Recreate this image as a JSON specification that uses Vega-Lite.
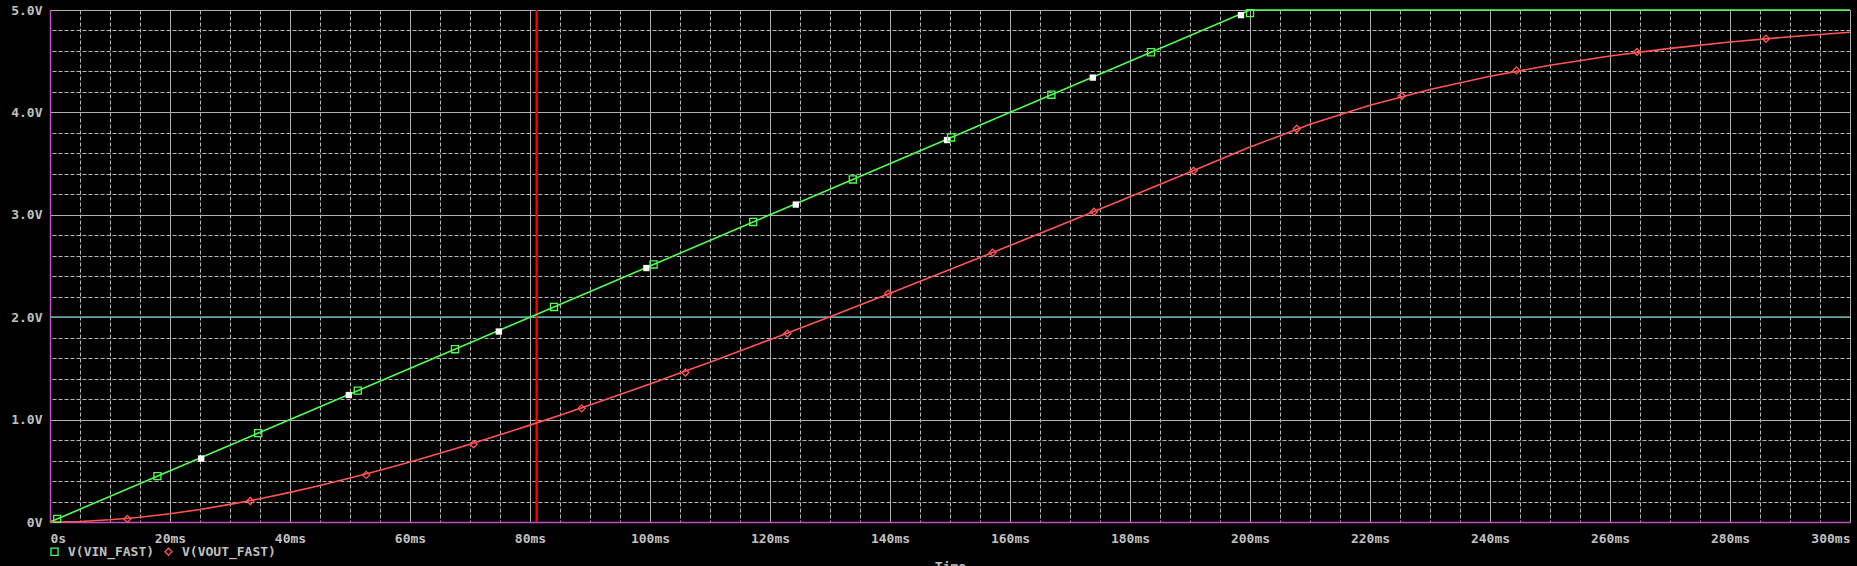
{
  "$schema": "https://vega.github.io/schema/vega-lite/v6.json",
  "width": 1800,
  "height": 512,
  "autosize": "none",
  "padding": {"left": 50, "top": 10, "right": 7, "bottom": 44},
  "background": "#000000",
  "resolve": {"axis": {"x": "independent", "y": "independent"}},
  "config": {
    "view": {"stroke": null},
    "axis": {
      "labelFont": "DejaVu Sans Mono",
      "labelFontWeight": "bold",
      "labelFontSize": 13,
      "labelColor": "#c0c0c0",
      "titleFont": "DejaVu Sans Mono",
      "titleFontWeight": "bold",
      "titleFontSize": 13,
      "titleColor": "#c0c0c0",
      "ticks": false,
      "domainColor": "#c050c0",
      "domainWidth": 1.5,
      "gridOpacity": 1,
      "gridWidth": 1,
      "labelOverlap": false
    },
    "legend": {
      "labelFont": "DejaVu Sans Mono",
      "labelFontWeight": "bold",
      "labelFontSize": 13,
      "labelColor": "#c0c0c0"
    }
  },
  "datasets": {
    "vin": [
      {"t": 0, "v": 0},
      {"t": 25, "v": 0.625},
      {"t": 50, "v": 1.25},
      {"t": 75, "v": 1.875},
      {"t": 100, "v": 2.5},
      {"t": 125, "v": 3.125},
      {"t": 150, "v": 3.75},
      {"t": 175, "v": 4.375},
      {"t": 200, "v": 5.0},
      {"t": 250, "v": 5.0},
      {"t": 300, "v": 5.0}
    ],
    "vout": [
      {"t": 0, "v": 0},
      {"t": 5, "v": 0.0055},
      {"t": 10, "v": 0.0215},
      {"t": 15, "v": 0.0468},
      {"t": 20, "v": 0.0808},
      {"t": 25, "v": 0.1228},
      {"t": 30, "v": 0.172},
      {"t": 35, "v": 0.2277},
      {"t": 40, "v": 0.2894},
      {"t": 45, "v": 0.3567},
      {"t": 50, "v": 0.429},
      {"t": 55, "v": 0.5058},
      {"t": 60, "v": 0.5868},
      {"t": 65, "v": 0.6717},
      {"t": 70, "v": 0.76},
      {"t": 75, "v": 0.8516},
      {"t": 80, "v": 0.946},
      {"t": 85, "v": 1.043},
      {"t": 90, "v": 1.143},
      {"t": 95, "v": 1.2445},
      {"t": 100, "v": 1.348},
      {"t": 105, "v": 1.454},
      {"t": 110, "v": 1.561},
      {"t": 120, "v": 1.78},
      {"t": 130, "v": 2.004},
      {"t": 140, "v": 2.233},
      {"t": 150, "v": 2.465},
      {"t": 160, "v": 2.7},
      {"t": 170, "v": 2.9375},
      {"t": 180, "v": 3.177},
      {"t": 190, "v": 3.4185},
      {"t": 200, "v": 3.661},
      {"t": 210, "v": 3.8835},
      {"t": 220, "v": 4.069},
      {"t": 230, "v": 4.224},
      {"t": 240, "v": 4.353},
      {"t": 250, "v": 4.4605},
      {"t": 260, "v": 4.55},
      {"t": 270, "v": 4.625},
      {"t": 280, "v": 4.687},
      {"t": 290, "v": 4.739},
      {"t": 300, "v": 4.783}
    ],
    "markers": [
      {"t": 1.2, "v": 0.03, "s": "V(VIN_FAST)"},
      {"t": 17.9, "v": 0.4475, "s": "V(VIN_FAST)"},
      {"t": 34.7, "v": 0.8675, "s": "V(VIN_FAST)"},
      {"t": 51.3, "v": 1.2825, "s": "V(VIN_FAST)"},
      {"t": 67.5, "v": 1.6875, "s": "V(VIN_FAST)"},
      {"t": 84, "v": 2.1, "s": "V(VIN_FAST)"},
      {"t": 100.6, "v": 2.515, "s": "V(VIN_FAST)"},
      {"t": 117.2, "v": 2.93, "s": "V(VIN_FAST)"},
      {"t": 133.8, "v": 3.345, "s": "V(VIN_FAST)"},
      {"t": 150.2, "v": 3.755, "s": "V(VIN_FAST)"},
      {"t": 166.9, "v": 4.1725, "s": "V(VIN_FAST)"},
      {"t": 183.5, "v": 4.5875, "s": "V(VIN_FAST)"},
      {"t": 200, "v": 4.97, "s": "V(VIN_FAST)"},
      {"t": 12.9, "v": 0.03, "s": "V(VOUT_FAST)"},
      {"t": 33.4, "v": 0.205, "s": "V(VOUT_FAST)"},
      {"t": 52.7, "v": 0.46, "s": "V(VOUT_FAST)"},
      {"t": 70.6, "v": 0.76, "s": "V(VOUT_FAST)"},
      {"t": 88.6, "v": 1.11, "s": "V(VOUT_FAST)"},
      {"t": 105.9, "v": 1.46, "s": "V(VOUT_FAST)"},
      {"t": 122.9, "v": 1.84, "s": "V(VOUT_FAST)"},
      {"t": 139.7, "v": 2.23, "s": "V(VOUT_FAST)"},
      {"t": 157.1, "v": 2.63, "s": "V(VOUT_FAST)"},
      {"t": 174, "v": 3.03, "s": "V(VOUT_FAST)"},
      {"t": 190.6, "v": 3.43, "s": "V(VOUT_FAST)"},
      {"t": 207.8, "v": 3.84, "s": "V(VOUT_FAST)"},
      {"t": 225.3, "v": 4.16, "s": "V(VOUT_FAST)"},
      {"t": 244.4, "v": 4.41, "s": "V(VOUT_FAST)"},
      {"t": 264.5, "v": 4.59, "s": "V(VOUT_FAST)"},
      {"t": 286, "v": 4.72, "s": "V(VOUT_FAST)"}
    ],
    "whites": [
      {"t": 25.2, "v": 0.62},
      {"t": 49.8, "v": 1.24},
      {"t": 74.8, "v": 1.86},
      {"t": 99.4, "v": 2.48},
      {"t": 124.3, "v": 3.1},
      {"t": 149.5, "v": 3.73},
      {"t": 173.8, "v": 4.34},
      {"t": 198.5, "v": 4.95}
    ],
    "cursor": [{"t": 81.1}],
    "hline": [{"v": 2.0}]
  },
  "layer": [
    {
      "data": {"name": "hline"},
      "mark": {"type": "rule", "color": "#5fa8a8", "strokeWidth": 1.2},
      "encoding": {
        "y": {
          "field": "v",
          "type": "quantitative",
          "scale": {"domain": [0, 5], "nice": false, "zero": false},
          "axis": {
            "orient": "right",
            "values": [0.2, 0.4, 0.6, 0.8, 1.2, 1.4, 1.6, 1.8, 2.2, 2.4, 2.6, 2.8, 3.2, 3.4, 3.6, 3.8, 4.2, 4.4, 4.6, 4.8],
            "labels": false,
            "domain": false,
            "title": null,
            "grid": true,
            "gridColor": "#b8b8b8",
            "gridDash": [4, 2]
          }
        }
      }
    },
    {
      "data": {"name": "cursor"},
      "mark": {"type": "rule", "color": "#ff0000", "strokeWidth": 1.8},
      "encoding": {
        "x": {
          "field": "t",
          "type": "quantitative",
          "scale": {"domain": [0, 300], "nice": false, "zero": false},
          "axis": {
            "orient": "top",
            "values": [5, 10, 15, 25, 30, 35, 45, 50, 55, 65, 70, 75, 85, 90, 95, 105, 110, 115, 125, 130, 135, 145, 150, 155, 165, 170, 175, 185, 190, 195, 205, 210, 215, 225, 230, 235, 245, 250, 255, 265, 270, 275, 285, 290, 295],
            "labels": false,
            "domain": false,
            "title": null,
            "grid": true,
            "gridColor": "#b8b8b8",
            "gridDash": [4, 2]
          }
        }
      }
    },
    {
      "data": {"name": "hline"},
      "mark": {"type": "rule", "color": "#5fa8a8", "strokeWidth": 1.2},
      "encoding": {
        "y": {
          "field": "v",
          "type": "quantitative",
          "axis": {
            "orient": "left",
            "values": [0, 1, 2, 3, 4, 5],
            "labelExpr": "datum.value == 0 ? '0V' : format(datum.value, '.1f') + 'V'",
            "labelOverlap": false,
            "labelPadding": 8,
            "title": null,
            "grid": true,
            "gridColor": "#b0b0b0"
          }
        }
      }
    },
    {
      "data": {"name": "cursor"},
      "mark": {"type": "rule", "color": "#ff0000", "strokeWidth": 1.8},
      "encoding": {
        "x": {
          "field": "t",
          "type": "quantitative",
          "axis": {
            "orient": "bottom",
            "values": [0, 20, 40, 60, 80, 100, 120, 140, 160, 180, 200, 220, 240, 260, 280, 300],
            "labelExpr": "datum.value == 0 ? '0s' : datum.value + 'ms'",
            "labelOverlap": false,
            "labelPadding": 10,
            "title": "Time",
            "titleBaseline": "top",
            "titleY": 38,
            "grid": true,
            "gridColor": "#b0b0b0"
          }
        }
      }
    },
    {
      "data": {"name": "vin"},
      "mark": {"type": "line", "strokeWidth": 1.6, "color": "#50ff50"},
      "encoding": {
        "x": {"field": "t", "type": "quantitative", "axis": null},
        "y": {"field": "v", "type": "quantitative", "axis": null}
      }
    },
    {
      "data": {"name": "vout"},
      "mark": {"type": "line", "strokeWidth": 1.6, "color": "#ff5555"},
      "encoding": {
        "x": {"field": "t", "type": "quantitative", "axis": null},
        "y": {"field": "v", "type": "quantitative", "axis": null}
      }
    },
    {
      "data": {"name": "whites"},
      "mark": {"type": "square", "color": "#ffffff", "filled": true, "size": 40, "opacity": 1},
      "encoding": {
        "x": {"field": "t", "type": "quantitative", "axis": null},
        "y": {"field": "v", "type": "quantitative", "axis": null}
      }
    },
    {
      "data": {"name": "markers"},
      "mark": {"type": "point", "filled": false, "strokeWidth": 1.3, "opacity": 1},
      "encoding": {
        "x": {"field": "t", "type": "quantitative", "axis": null},
        "y": {"field": "v", "type": "quantitative", "axis": null},
        "color": {
          "field": "s",
          "type": "nominal",
          "scale": {"domain": ["V(VIN_FAST)", "V(VOUT_FAST)"], "range": ["#50ff50", "#ff5555"]},
          "legend": {
            "title": null,
            "orient": "none",
            "legendX": -2,
            "legendY": 535,
            "direction": "horizontal",
            "symbolSize": 50,
            "symbolStrokeWidth": 1.3,
            "labelOffset": 7,
            "columnPadding": 7
          }
        },
        "shape": {
          "field": "s",
          "type": "nominal",
          "scale": {"domain": ["V(VIN_FAST)", "V(VOUT_FAST)"], "range": ["square", "diamond"]},
          "legend": {
            "title": null,
            "orient": "none",
            "legendX": -2,
            "legendY": 535,
            "direction": "horizontal",
            "symbolSize": 50,
            "symbolStrokeWidth": 1.3,
            "labelOffset": 7,
            "columnPadding": 7
          }
        },
        "size": {"value": 50}
      }
    }
  ]
}
